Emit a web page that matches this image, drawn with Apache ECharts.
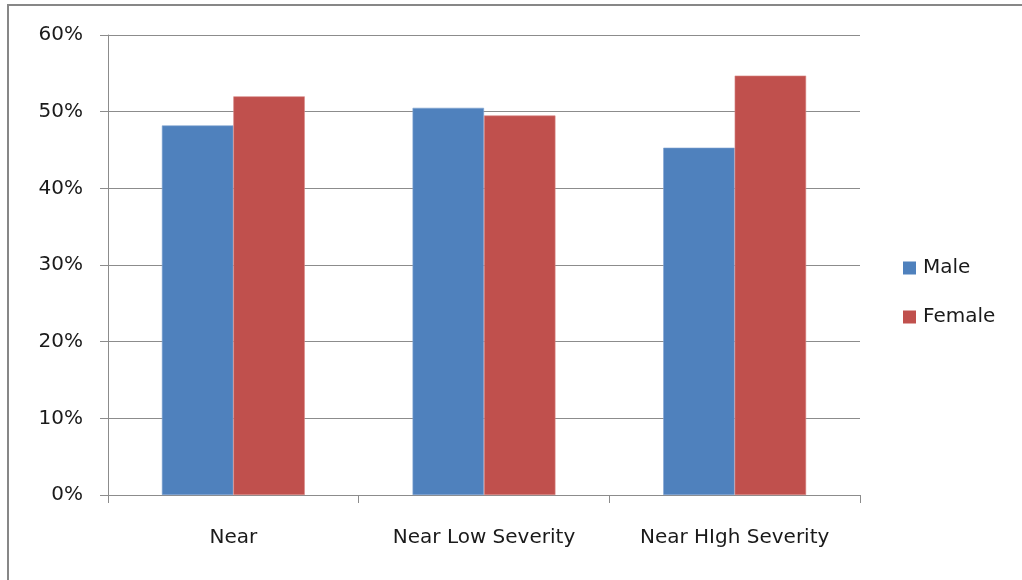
<!DOCTYPE html>
<html>
<head>
<meta charset="utf-8">
<script src="https://cdn.jsdelivr.net/npm/echarts@6/dist/echarts.min.js"></script>
<style>
  html, body { margin: 0; padding: 0; background: #fff; }
  #chart { width: 1022px; height: 580px; }
</style>
</head>
<body>
<div id="chart"></div>
<script>
// Share of each group by gender
const categories = ['Near', 'Near Low Severity', 'Near HIgh Severity'];
const maleValues = [0.482, 0.505, 0.453];
const femaleValues = [0.520, 0.495, 0.547];
const seriesNames = ['Male', 'Female'];

const FONT = 'DejaVu Sans';
const chart = echarts.init(document.getElementById('chart'));

chart.setOption({
  animation: false,
  textStyle: { fontFamily: FONT },
  graphic: [{
    type: 'rect',
    shape: { x: 8, y: 5, width: 1100, height: 700 },
    style: { fill: 'none', stroke: '#878787', lineWidth: 2 },
    silent: true
  }],
  grid: { left: 108, right: 162, top: 35, bottom: 85 },
  legend: {
    orient: 'vertical',
    left: 903,
    top: 258,
    padding: 0,
    itemWidth: 13,
    itemHeight: 13,
    itemGap: 29,
    icon: 'rect',
    itemStyle: { borderWidth: 0 },
    textStyle: { fontFamily: FONT, fontSize: 20, color: '#1a1a1a', padding: [0, 0, 0, 2] },
    data: seriesNames
  },
  xAxis: {
    type: 'category',
    data: categories,
    axisLine: { lineStyle: { color: '#8c8c8c', width: 1 } },
    axisTick: { show: true, length: 8, alignWithLabel: false, lineStyle: { color: '#8c8c8c' } },
    axisLabel: { fontFamily: FONT, fontSize: 20, color: '#1a1a1a', margin: 33 }
  },
  yAxis: {
    type: 'value',
    min: 0,
    max: 0.6,
    interval: 0.1,
    axisLine: { show: true, lineStyle: { color: '#8c8c8c', width: 1 } },
    axisTick: { show: true, length: 8, lineStyle: { color: '#8c8c8c' } },
    splitLine: { show: true, lineStyle: { color: '#8c8c8c', width: 1 } },
    axisLabel: {
      fontFamily: FONT, fontSize: 20, color: '#1a1a1a', margin: 25,
      formatter: v => Math.round(v * 100) + '%'
    }
  },
  series: [
    {
      name: seriesNames[0],
      type: 'bar',
      data: maleValues,
      barGap: '0%',
      barCategoryGap: '43%',
      itemStyle: { color: '#4F81BD', borderColor: '#7FA3D2', borderWidth: 0.6 }
    },
    {
      name: seriesNames[1],
      type: 'bar',
      data: femaleValues,
      barGap: '0%',
      barCategoryGap: '43%',
      itemStyle: { color: '#C0504D', borderColor: '#D88784', borderWidth: 0.6 }
    }
  ]
});
</script>
</body>
</html>
